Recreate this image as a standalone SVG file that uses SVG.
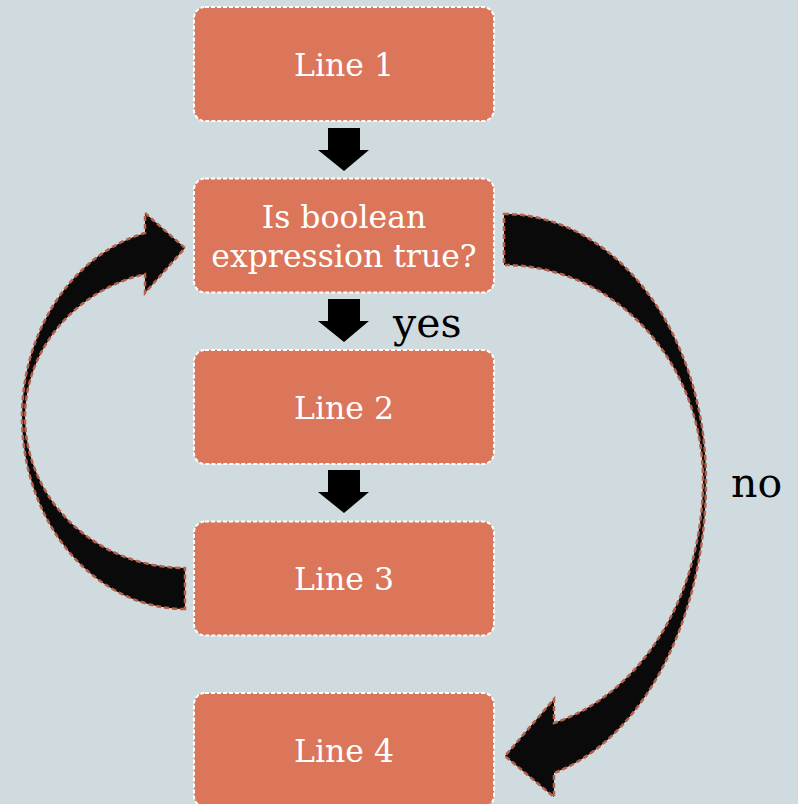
<svg xmlns="http://www.w3.org/2000/svg" width="798" height="804" viewBox="0 0 798 804">
<style>
.box{fill:#db765a;stroke:#ffffff;stroke-width:2;stroke-dasharray:4 2}
.lbl{font-family:"DejaVu Serif","Liberation Serif",serif;font-size:31.5px;fill:#ffffff;text-anchor:middle}
.cap{font-family:"DejaVu Serif","Liberation Serif",serif;font-size:41px;fill:#000000}
.blk{fill:#000000}
.curve{fill:#0a0a0a;stroke:#b9604a;stroke-width:2.5;stroke-dasharray:5 3}
</style>
<rect width="798" height="804" fill="#cfdbdf"/>
<g id="connectors">
<path class="blk" d="M328 128 H360 V150 H369 L344 171 L318 150 H328 Z"/>
<path class="blk" d="M328 299 H360 V321 H369 L344 342 L318 321 H328 Z"/>
<path class="blk" d="M328 470 H360 V492 H369 L344 513 L318 492 H328 Z"/>
<path id="loop-back" class="curve" d="M185 609 A163 192 0 0 1 22 417 A163 190 0 0 1 145 233 L145 213 L185 248 L145 293 L145 274 A160 148 0 0 0 25 417 A160 151 0 0 0 185 568 Z"/>
<path id="exit" class="curve" d="M504 214 A202 266 0 0 1 706 480 A202 302 0 0 1 554 773 L554 797 L505 756 L554 699 L554 723 A199 251 0 0 0 703 480 A199 215 0 0 0 504 265 Z"/>
<text class="cap" x="393" y="337">yes</text>
<text class="cap" x="731" y="497">no</text>
</g>
<g id="line1">
<rect class="box" x="194" y="7" width="300" height="114" rx="11"/>
<text class="lbl" x="344" y="76">Line 1</text>
</g>
<g id="cond">
<rect class="box" x="194" y="178.5" width="300" height="114" rx="11"/>
<text class="lbl" x="344" y="228">Is boolean</text>
<text class="lbl" x="344" y="267">expression true?</text>
</g>
<g id="line2">
<rect class="box" x="194" y="350" width="300" height="114" rx="11"/>
<text class="lbl" x="344" y="419">Line 2</text>
</g>
<g id="line3">
<rect class="box" x="194" y="521.5" width="300" height="114" rx="11"/>
<text class="lbl" x="344" y="590">Line 3</text>
</g>
<g id="line4">
<rect class="box" x="194" y="693" width="300" height="114" rx="11"/>
<text class="lbl" x="344" y="762">Line 4</text>
</g>
</svg>
